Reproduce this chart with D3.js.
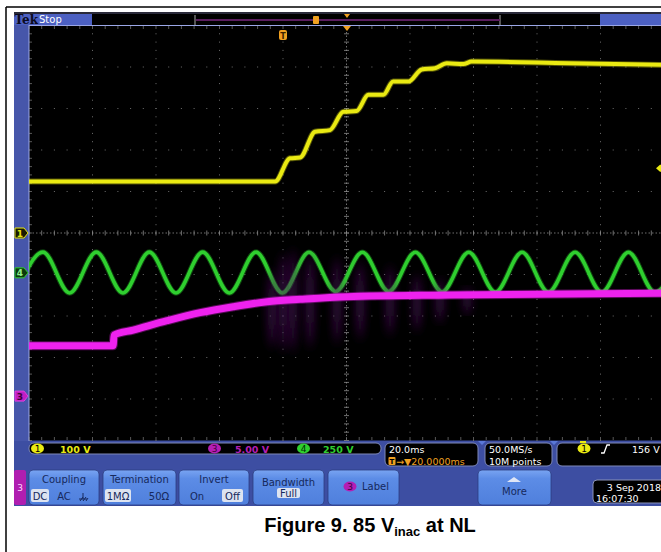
<!DOCTYPE html>
<html>
<head>
<meta charset="utf-8">
<script src="https://cdn.jsdelivr.net/npm/d3@7"></script>
<style>
body { margin: 0; background: #fff; }
svg text { font-family: "DejaVu Sans", sans-serif; }
</style>
</head>
<body>
<div id="chart"></div>
<script>
// CH1 (yellow) bus voltage: ms from trigger, volts
var ch1Time  = [-80, -2.5, 2.2, 5.4, 10.1, 14.8, 19.0, 23.2, 26.9, 31.6, 34.7, 39.5, 43.7, 47.9, 51.6, 56.8, 59.4, 90, 120];
var ch1Volts = [124, 124, 180, 182, 244, 248, 292, 294, 333, 333, 365, 365, 394, 397, 409, 407, 413, 409, 405];

// CH4 (green) ac input, peaks and troughs
var ch4Time  = [-83.9, -75.6, -67.2, -58.8, -50.4, -42.1, -33.7, -25.3, -16.9, -8.5, -0.2, 8.2, 16.6,
                25.0, 33.3, 41.7, 50.1, 58.5, 66.9, 75.3, 83.6, 92.0, 100.4, 108.8, 117.1, 125.5];
var ch4Volts = [-121, 125, -121, 125, -121, 125, -121, 125, -121, 125, -121, 124, -112,
                124, -112, 124, -114, 124, -116, 124, -116, 124, -116, 124, -116, 124];

// CH3 (magenta) vcc
var ch3Time  = [-80, -53.5, -53.2, -47.2, -36.5, -26.1, -15.7, -5.0, 5.4, 20.2, 52.6, 120];
var ch3Volts = [6.07, 6.07, 7.36, 7.96, 9.08, 10.05, 10.77, 11.37, 11.66, 11.98, 12.18, 12.4];

// faint ch3 noise bursts (ms, volts low/high)
var burstTime = [-3.5, 0, 3.1, 8.5, 17, 24.3, 33.7, 42.2, 49.4, 58];
var burstLow  = [6, 5.5, 5.5, 6, 6.5, 7, 7.5, 8, 9, 10];
var burstHigh = [15, 17, 17.5, 17, 16.5, 16, 15.5, 14.5, 14, 13];

var chLabels = ["1", "3", "4"];
var chScales = ["100 V", "5.00 V", "250 V"];
var chOffsets = [0, -3.93, -0.96];  // divisions
var chPerDiv = [100, 5, 250];
var timeBase = "20.0ms", delayText = "\u2192\u25BC20.0000ms";
var sampleRate = "50.0MS/s", recordLen = "10M points";
var trigLevel = "156 V";
var dateLines = ["3 Sep  2018", "16:07:30"];
var menuTitles = ["Coupling", "Termination", "Invert", "Bandwidth", "Label", "More"];

var width = 661, height = 552;
var svg = d3.select("#chart").append("svg")
  .attr("width", width).attr("height", height);

var x = d3.scaleLinear().domain([-80, 120]).range([29, 664]);
var div = d3.scaleLinear().domain([-5, 5]).range([440.5, 25.5]);
function chY(i) { return function (v) { return div(v / chPerDiv[i] + chOffsets[i]); }; }
var y1 = chY(0), y3 = chY(1), y4 = chY(2);

// page frame
svg.append("line").attr("x1", 6).attr("x2", 661).attr("y1", 7).attr("y2", 7).attr("stroke", "#000").attr("stroke-width", 1.5);
svg.append("line").attr("x1", 6).attr("x2", 6).attr("y1", 7).attr("y2", 552).attr("stroke", "#000").attr("stroke-width", 1.5);

// scope body
svg.append("rect").attr("x", 14).attr("y", 12).attr("width", 647).attr("height", 494).attr("fill", "#3d4ea2");
svg.append("rect").attr("x", 14).attr("y", 12).attr("width", 647).attr("height", 2).attr("fill", "#2a2a3a");

// top bar
svg.append("rect").attr("x", 14).attr("y", 14).attr("width", 647).attr("height", 11).attr("fill", "#000");
svg.append("rect").attr("x", 14).attr("y", 14).attr("width", 78).attr("height", 11).attr("fill", "#4c60c2");
svg.append("text").attr("x", 14.5).attr("y", 24).attr("font-weight", "bold")
  .attr("font-size", 12).attr("fill", "#0a0a20").style("font-family", "'DejaVu Serif', serif").text("Tek");
svg.append("text").attr("x", 39).attr("y", 23).attr("font-size", 10).attr("fill", "#fff").text("Stop");
svg.append("rect").attr("x", 600).attr("y", 14).attr("width", 61).attr("height", 11).attr("fill", "#4c60c2");
svg.append("line").attr("x1", 195).attr("x2", 195).attr("y1", 15).attr("y2", 25).attr("stroke", "#aaa");
svg.append("line").attr("x1", 500).attr("x2", 500).attr("y1", 15).attr("y2", 25).attr("stroke", "#aaa");
svg.append("line").attr("x1", 196).attr("x2", 500).attr("y1", 20).attr("y2", 20).attr("stroke", "#5a1d5e").attr("stroke-width", 2);
svg.append("rect").attr("x", 313).attr("y", 16).attr("width", 6).attr("height", 8).attr("rx", 1).attr("fill", "#f0a020");
svg.append("path").attr("d", "M344,14 L350,14 L347,18 Z").attr("fill", "#f0a020");

// left strip
svg.append("rect").attr("x", 14).attr("y", 25).attr("width", 15).attr("height", 416).attr("fill", "#4656aa");

// graticule
var g = svg.append("g");
g.append("rect").attr("x", 29).attr("y", 25.5).attr("width", 632).attr("height", 415).attr("fill", "#000");
svg.append("line").attr("x1", 29).attr("x2", 661).attr("y1", 25.5).attr("y2", 25.5).attr("stroke", "#9aa6e6").attr("stroke-width", 1.2);
svg.append("line").attr("x1", 29).attr("x2", 29).attr("y1", 25).attr("y2", 441).attr("stroke", "#9aa6e6").attr("stroke-width", 1);

var dotColor = "#6e6e6e";
var vDivs = d3.range(1, 10).map(function (k) { return -80 + 20 * k; });
var hDivs = d3.range(-4, 5);
var ySub = d3.range(-5, 5.01, 0.2);
var xSub = d3.range(-80, 120.01, 4);

vDivs.forEach(function (t) {
  if (t === 20) return;
  g.selectAll(null).data(ySub).join("rect")
    .attr("x", x(t) - 0.5).attr("y", function (d) { return div(d) - 0.5; })
    .attr("width", 1).attr("height", 1).attr("fill", dotColor);
});
hDivs.forEach(function (d0) {
  if (d0 === 0) return;
  g.selectAll(null).data(xSub).join("rect")
    .attr("x", function (d) { return x(d) - 0.5; }).attr("y", div(d0) - 0.5)
    .attr("width", 1).attr("height", 1).attr("fill", dotColor);
});
// center lines with ticks
g.append("line").attr("x1", 29).attr("x2", 664).attr("y1", div(0)).attr("y2", div(0))
  .attr("stroke", "#8a8a8a").attr("stroke-width", 0.8).attr("stroke-dasharray", "1.5,2");
g.append("line").attr("x1", x(20)).attr("x2", x(20)).attr("y1", 25).attr("y2", 441)
  .attr("stroke", "#8a8a8a").attr("stroke-width", 0.8).attr("stroke-dasharray", "1.5,2");
g.selectAll(null).data(xSub).join("line")
  .attr("x1", function (d) { return x(d); }).attr("x2", function (d) { return x(d); })
  .attr("y1", div(0) - 2.5).attr("y2", div(0) + 2.5).attr("stroke", "#8a8a8a").attr("stroke-width", 0.8);
g.selectAll(null).data(ySub).join("line")
  .attr("x1", x(20) - 2.5).attr("x2", x(20) + 2.5)
  .attr("y1", function (d) { return div(d); }).attr("y2", function (d) { return div(d); })
  .attr("stroke", "#8a8a8a").attr("stroke-width", 0.8);
// edge ticks
g.selectAll(null).data(xSub).join("line")
  .attr("x1", function (d) { return x(d); }).attr("x2", function (d) { return x(d); })
  .attr("y1", 26).attr("y2", 29).attr("stroke", "#6e6e6e").attr("stroke-width", 0.8);
g.selectAll(null).data(xSub).join("line")
  .attr("x1", function (d) { return x(d); }).attr("x2", function (d) { return x(d); })
  .attr("y1", 437).attr("y2", 440).attr("stroke", "#6e6e6e").attr("stroke-width", 0.8);
g.selectAll(null).data(ySub).join("line")
  .attr("x1", 29).attr("x2", 32)
  .attr("y1", function (d) { return div(d); }).attr("y2", function (d) { return div(d); })
  .attr("stroke", "#6e6e6e").attr("stroke-width", 0.8);

// clip for traces
svg.append("clipPath").attr("id", "clip").append("rect")
  .attr("x", 29).attr("y", 26).attr("width", 632).attr("height", 415);
var defs = svg.append("defs");
defs.append("filter").attr("id", "soft").append("feGaussianBlur").attr("stdDeviation", 0.6);
defs.append("filter").attr("id", "blur4").attr("x", "-200%").attr("width", "500%")
  .append("feGaussianBlur").attr("stdDeviation", "4 6");

var traces = svg.append("g").attr("clip-path", "url(#clip)");

function drawTrace(times, vals, yf, color, w) {
  var line = d3.line().x(function (d, i) { return x(times[i]); })
    .y(function (d) { return yf(d); }).curve(d3.curveMonotoneX);
  traces.append("path").attr("d", line(vals)).attr("fill", "none")
    .attr("stroke", color).attr("stroke-width", w + 2).attr("stroke-opacity", 0.35).attr("filter", "url(#soft)");
  traces.append("path").attr("d", line(vals)).attr("fill", "none")
    .attr("stroke", color).attr("stroke-width", w).attr("stroke-linejoin", "round");
}

drawTrace(ch1Time, ch1Volts, y1, "#eaea12", 4);
drawTrace(ch4Time, ch4Volts, y4, "#2fcf2f", 3.6);

// noise bursts of ch3
traces.selectAll(".burst").data(burstTime).join("ellipse")
  .attr("class", "burst")
  .attr("cx", function (d) { return x(d); })
  .attr("cy", function (d, i) { return (y3(burstLow[i]) + y3(burstHigh[i])) / 2; })
  .attr("rx", 4)
  .attr("ry", function (d, i) { return (y3(burstLow[i]) - y3(burstHigh[i])) / 2; })
  .attr("fill", "#4a1258").attr("fill-opacity", 0.7).attr("filter", "url(#blur4)");

drawTrace(ch3Time, ch3Volts, y3, "#ee22ee", 7);

// trigger marker and position
svg.append("path").attr("d", "M343,26 L351,26 L347,31 Z").attr("fill", "#f0a020");
svg.append("rect").attr("x", x(0) - 4).attr("y", 30).attr("width", 8).attr("height", 10).attr("rx", 2).attr("fill", "#f0a020");
svg.append("text").attr("x", x(0)).attr("y", 38.5).attr("text-anchor", "middle").attr("font-size", 8)
  .attr("font-weight", "bold").attr("fill", "#3a2000").text("T");
svg.append("path").attr("d", "M656,167 L660,163.5 L661,163.5 L661,170.5 L660,170.5 Z")
  .attr("transform", "translate(0," + (y1(156) - 167) + ")").attr("fill", "#eaea12");

// channel markers
function chMarker(label, yPos, fill, stroke, txt) {
  var m = svg.append("g").attr("transform", "translate(15," + yPos + ")");
  m.append("path").attr("d", "M0,-5 L9,-5 L13,0 L9,5 L0,5 Z").attr("fill", fill).attr("stroke", stroke).attr("stroke-width", 1);
  m.append("text").attr("x", 5).attr("y", 3.5).attr("text-anchor", "middle").attr("font-size", 9)
    .attr("font-weight", "bold").attr("fill", txt).text(label);
}
chMarker(chLabels[0], y1(0), "#1a1a00", "#e6e610", "#e6e610");
chMarker(chLabels[2], y4(0), "#0c3a0c", "#2fcf2f", "#8ff08f");
chMarker(chLabels[1], y3(0), "#c21ec2", "#e040e0", "#400040");

// status bar
function box(x0, y0, w, h) {
  svg.append("rect").attr("x", x0).attr("y", y0).attr("width", w).attr("height", h).attr("rx", 5)
    .attr("fill", "#000").attr("stroke", "#7f88b8").attr("stroke-width", 1);
}
function pill(cx, cy, fill, label, txt) {
  svg.append("ellipse").attr("cx", cx).attr("cy", cy).attr("rx", 6.5).attr("ry", 5).attr("fill", fill);
  svg.append("text").attr("x", cx).attr("y", cy + 3.3).attr("text-anchor", "middle").attr("font-size", 9)
    .attr("fill", txt).text(label);
}
box(29, 443, 352, 11);
box(385, 443, 93, 23);
box(485, 443, 67, 23);
box(557, 443, 110, 23);

var stat = { size: 9.5, weight: "bold" };
pill(37.5, 448.5, "#eaea12", chLabels[0], "#000");
svg.append("text").attr("x", 60).attr("y", 452.5).attr("font-size", stat.size).attr("font-weight", stat.weight).attr("fill", "#eaea12").text(chScales[0]);
pill(214.5, 448.5, "#b41eb4", chLabels[1], "#400040");
svg.append("text").attr("x", 235).attr("y", 452.5).attr("font-size", stat.size).attr("font-weight", stat.weight).attr("fill", "#b41eb4").text(chScales[1]);
pill(303.5, 448.5, "#2fcf2f", chLabels[2], "#003000");
svg.append("text").attr("x", 323).attr("y", 452.5).attr("font-size", stat.size).attr("font-weight", stat.weight).attr("fill", "#2fcf2f").text(chScales[2]);

svg.append("text").attr("x", 389).attr("y", 453).attr("font-size", stat.size).attr("fill", "#fff").text(timeBase);
svg.append("rect").attr("x", 388.5).attr("y", 457).attr("width", 7).attr("height", 8).attr("rx", 1).attr("fill", "#f0a020");
svg.append("text").attr("x", 392).attr("y", 464).attr("text-anchor", "middle").attr("font-size", 7).attr("font-weight", "bold").attr("fill", "#000").text("T");
svg.append("text").attr("x", 396).attr("y", 465).attr("font-size", stat.size).attr("fill", "#f0a020").text(delayText);
svg.append("text").attr("x", 489).attr("y", 453).attr("font-size", stat.size).attr("fill", "#fff").text(sampleRate);
svg.append("text").attr("x", 489).attr("y", 465).attr("font-size", stat.size).attr("fill", "#fff").text(recordLen);
pill(584, 448.5, "#eaea12", chLabels[0], "#000");
svg.append("path").attr("d", "M601,453 L604,453 L607,445 L610,445").attr("fill", "none").attr("stroke", "#fff").attr("stroke-width", 1.3);
svg.append("text").attr("x", 632).attr("y", 452.5).attr("font-size", stat.size).attr("fill", "#fff").text(trigLevel);

// markers on the bottom edge
svg.append("path").attr("d", "M478,441 L486,441 L482,445 Z").attr("fill", "#5a78d8");
svg.append("path").attr("d", "M550,441 L558,441 L554,445 Z").attr("fill", "#5a78d8");
svg.append("rect").attr("x", 580).attr("y", 441).attr("width", 6).attr("height", 2).attr("fill", "#eaea12");

// menu row
var grad = defs.append("linearGradient").attr("id", "btn").attr("x1", 0).attr("x2", 0).attr("y1", 0).attr("y2", 1);
grad.append("stop").attr("offset", "0%").attr("stop-color", "#79a4f2");
grad.append("stop").attr("offset", "25%").attr("stop-color", "#5c8ce6");
grad.append("stop").attr("offset", "100%").attr("stop-color", "#4f7fdc");

svg.append("rect").attr("x", 14).attr("y", 470).attr("width", 12).attr("height", 35).attr("rx", 2).attr("fill", "#b01eb0");
svg.append("text").attr("x", 20).attr("y", 491).attr("text-anchor", "middle").attr("font-size", 9).attr("fill", "#ffd6ff").text(chLabels[1]);

var btnX = [29, 103, 179, 253, 328, 478];
var btnW = [70, 73, 70, 71, 71, 73];
var navy = "#16295c";
btnX.forEach(function (bx, i) {
  svg.append("rect").attr("x", bx).attr("y", 470).attr("width", btnW[i]).attr("height", 35).attr("rx", 4)
    .attr("fill", "url(#btn)").attr("stroke", "#2c3c80").attr("stroke-width", 0.8);
});
function hl(x0, y0, w, h) {
  svg.append("rect").attr("x", x0).attr("y", y0).attr("width", w).attr("height", h).attr("rx", 2).attr("fill", "#dde3f0");
}
function mtext(tx, ty, s, anchor) {
  svg.append("text").attr("x", tx).attr("y", ty).attr("text-anchor", anchor || "middle")
    .attr("font-size", 10).attr("fill", navy).text(s);
}
// coupling
mtext(64, 483, menuTitles[0]);
hl(31, 489, 18, 13);
mtext(40, 499.5, "DC");
mtext(64, 499.5, "AC");
svg.append("path").attr("d", "M83,493 L83,499 M79,499 L87,499 M80,501 L83,497 M83,501 L86,497 M86,501 L88,498")
  .attr("stroke", navy).attr("stroke-width", 1).attr("fill", "none");
// termination
mtext(139.5, 483, menuTitles[1]);
hl(105, 489, 26, 13);
mtext(118, 499.5, "1M\u03A9");
mtext(159, 499.5, "50\u03A9");
// invert
mtext(214, 483, menuTitles[2]);
mtext(197, 499.5, "On");
hl(222, 489, 21, 13);
mtext(232.5, 499.5, "Off");
// bandwidth
mtext(288.5, 486, menuTitles[3]);
hl(277, 488, 23, 10);
mtext(288.5, 497, "Full");
// label
pill(350, 486.5, "#b41eb4", chLabels[1], "#400040");
mtext(362, 490, menuTitles[4], "start");
// more
svg.append("path").attr("d", "M507,482 L521,482 L514,477 Z").attr("fill", "#dfe6f6");
mtext(514.5, 494.5, menuTitles[5]);

// date
svg.append("rect").attr("x", 593).attr("y", 480).attr("width", 75).attr("height", 23).attr("rx", 4)
  .attr("fill", "#000").attr("stroke", "#8a92b8").attr("stroke-width", 1);
svg.append("text").attr("x", 661).attr("y", 490.5).attr("text-anchor", "end").attr("font-size", 9.5).attr("fill", "#fff").text(dateLines[0]);
svg.append("text").attr("x", 596).attr("y", 501.5).attr("font-size", 9.5).attr("fill", "#fff").text(dateLines[1]);

// caption
var cap = svg.append("text").attr("x", 370).attr("y", 532).attr("text-anchor", "middle")
  .style("font-family", "'Liberation Sans', Arial, sans-serif").attr("font-weight", "bold").attr("font-size", 20).attr("fill", "#000");
cap.append("tspan").text("Figure 9. 85 V");
cap.append("tspan").attr("font-size", 13).attr("dy", 4).text("inac");
cap.append("tspan").attr("dy", -4).text(" at NL");
</script>
</body>
</html>
